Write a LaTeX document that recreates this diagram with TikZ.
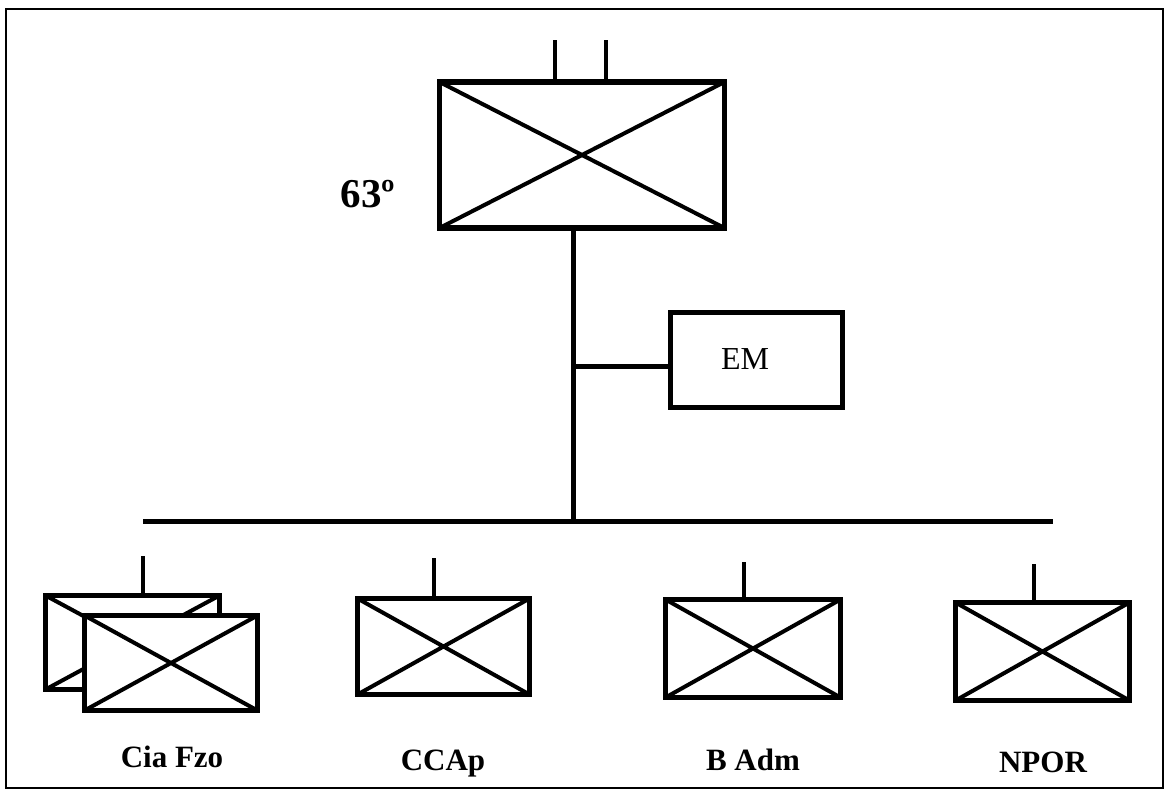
\documentclass[tikz,border=0pt]{standalone}
\usepackage{fontspec}
\setmainfont{Liberation Serif}
\begin{document}
\begin{tikzpicture}[x=1pt,y=-1pt,
  xbox/.style={draw, fill=white, line width=5.5pt, inner sep=0pt,
    minimum width=#1,
    path picture={\draw[line width=4pt]
      (path picture bounding box.north west) -- (path picture bounding box.south east)
      (path picture bounding box.south west) -- (path picture bounding box.north east);}},
  plainbox/.style={draw, line width=5.5pt, inner sep=0pt},
  conn/.style={line width=5pt},
  stub/.style={line width=4pt},
  lbl/.style={font=\bfseries\fontsize{31}{33}\selectfont, inner sep=0pt, anchor=base},
]
\useasboundingbox (0,0) rectangle (1168,793);
\draw[line width=1.8pt] (6,9) rectangle (1163,788);

% top unit
\node[xbox=285pt, minimum height=146pt] (top) at (582,155) {};
\coordinate (t1) at (555,40);
\coordinate (t2) at (606,40);
\draw[stub] (t1) -- (t1 |- top.north);
\draw[stub] (t2) -- (t2 |- top.north);
\node[font=\bfseries\fontsize{41}{43}\selectfont, inner sep=0pt, anchor=base] (lab63) at (368,207) {63º};

% trunk and bar
\coordinate (trunk) at (573,521);
\coordinate (barL) at (143,521);
\coordinate (barR) at (1053,521);
\draw[conn] (trunk |- top.south) -- (trunk);
\draw[conn] (barL) -- (barR);

% EM
\node[plainbox, minimum width=172pt, minimum height=95pt] (em) at (756.5,360) {};
\node[font=\fontsize{32}{34}\selectfont, inner sep=0pt, anchor=base] (emt) at (745,369) {EM};
\draw[conn] ([yshift=-6pt]trunk |- em.west) -- ([yshift=-6pt]em.west);

% bottom units
\node[xbox=174pt, minimum height=94pt] (ciaB) at (132.5,642.5) {};
\node[xbox=173pt, minimum height=95pt] (ciaF) at (171,663) {};
\node[xbox=172pt, minimum height=96pt] (ccap) at (443.5,646.5) {};
\node[xbox=175pt, minimum height=98pt] (badm) at (753,648.5) {};
\node[xbox=174pt, minimum height=98pt] (npor) at (1042.5,651.5) {};

\coordinate (s1) at (143,556);
\coordinate (s2) at (434,558);
\coordinate (s3) at (744,562);
\coordinate (s4) at (1034,564);
\draw[stub] (s1) -- (s1 |- ciaB.north);
\draw[stub] (s2) -- (s2 |- ccap.north);
\draw[stub] (s3) -- (s3 |- badm.north);
\draw[stub] (s4) -- (s4 |- npor.north);

\node[lbl] (l1) at (172,767) {Cia Fzo};
\node[lbl] (l2) at (443,770) {CCAp};
\node[lbl] (l3) at (753,770) {B Adm};
\node[lbl] (l4) at (1043,772) {NPOR};
\end{tikzpicture}
\end{document}
